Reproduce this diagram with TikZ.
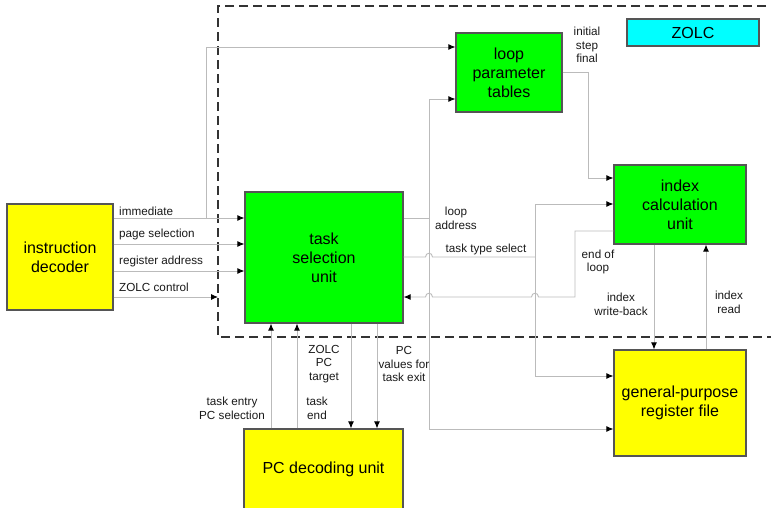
\documentclass[tikz,border=0pt]{standalone}
\usepackage{fontspec}
\setmainfont{Liberation Sans}
\usetikzlibrary{arrows.meta}
\definecolor{boxyellow}{HTML}{FFFF00}
\definecolor{boxgreen}{HTML}{00FF00}
\definecolor{boxcyan}{HTML}{00FFFF}
\definecolor{boxline}{HTML}{555555}
\definecolor{wire}{HTML}{BBBBBB}
\definecolor{zoneline}{HTML}{333333}
\begin{document}
\begin{tikzpicture}[x=1pt,y=-1pt,
  blk/.style={draw=boxline,line width=1.2pt,inner sep=0pt,align=center,
    font=\fontsize{16}{19}\selectfont},
  lbl/.style={inner sep=0pt,align=center,text=black!90,
    font=\fontsize{11.7}{13.8}\selectfont},
  conn/.style={draw=wire,line width=0.9pt},
  arr/.style={conn,-{Latex[length=7pt,width=6pt,color=black]}},
  zone/.style={draw=zoneline,line width=1.3pt,dash pattern=on 9pt off 5pt},
]
\useasboundingbox (0,0) rectangle (771,507);

% ZOLC region boundary
\draw[zone] (780,6) -- (218,6) -- (218,337) -- (780,337);

% functional blocks
\node[blk,fill=boxyellow,minimum width=106pt,minimum height=106pt] (id) at (60,257) {instruction\\decoder};
\node[blk,fill=boxgreen,minimum width=158pt,minimum height=131pt] (tsu) at (324,257.5) {task\\selection\\unit};
\node[blk,fill=boxgreen,minimum width=106pt,minimum height=79pt] (lpt) at (509,72.5) {loop\\parameter\\tables};
\node[blk,fill=boxcyan,minimum width=132pt,minimum height=27pt] (zolc) at (693,32.5) {ZOLC};
\node[blk,fill=boxgreen,minimum width=132pt,minimum height=79pt] (icu) at (680,204.5) {index\\calculation\\unit};
\node[blk,fill=boxyellow,minimum width=132pt,minimum height=106pt] (gprf) at (680,403) {general-purpose\\register file};
\node[blk,fill=boxyellow,minimum width=159pt,minimum height=80pt] (pcdu) at (323.5,469) {PC decoding unit};

% signal levels and junctions
\coordinate (yimm) at (0,218);
\coordinate (ypg) at (0,244);
\coordinate (yreg) at (0,271);
\coordinate (yzc) at (0,297);
\coordinate (zend) at (218,297);
\coordinate (jimm) at (206,218);
\coordinate (ylp1) at (0,47);
\coordinate (ylp2) at (0,99);
\coordinate (yisf) at (0,72);
\coordinate (cisf) at (588,178);
\coordinate (jla) at (429,218);
\coordinate (jtt) at (535,257);
\coordinate (yic2) at (0,204);
\coordinate (yel) at (0,231);
\coordinate (cel) at (575,297);
\coordinate (ygp1) at (0,376);
\coordinate (ygp2) at (0,429);
\coordinate (xwb) at (654,0);
\coordinate (xir) at (706,0);
\coordinate (xte) at (271,0);
\coordinate (xtend) at (297,0);
\coordinate (xzt) at (351,0);
\coordinate (xpv) at (377,0);

% instruction decoder outputs
\draw[arr] (id.east |- yimm) -- (tsu.west |- yimm);
\draw[arr] (jimm) |- (lpt.west |- ylp1);
\draw[arr] (id.east |- ypg) -- (tsu.west |- ypg);
\draw[arr] (id.east |- yreg) -- (tsu.west |- yreg);
\draw[arr] (id.east |- yzc) -- (zend);

% loop address
\draw[conn] (tsu.east |- jla) -- (jla);
\draw[arr] (jla) |- (lpt.west |- ylp2);
\draw[arr] (jla) |- (gprf.west |- ygp2);

% task type select (hops over the loop address line)
\draw[conn] (tsu.east |- jtt) -- (425.5,257) .. controls (425.5,252) and (432.5,252) .. (432.5,257) -- (jtt);
\draw[arr] (jtt) |- (icu.west |- yic2);
\draw[arr] (jtt) |- (gprf.west |- ygp1);

% loop parameters
\draw[arr] (lpt.east |- yisf) -| (cisf) -- (icu.west |- cisf);

% end of loop (hops over two vertical lines)
\draw[arr] (icu.west |- yel) -| (cel) -- (538.5,297) .. controls (538.5,292) and (531.5,292) .. (531.5,297)
  -- (432.5,297) .. controls (432.5,292) and (425.5,292) .. (425.5,297) -- (tsu.east |- cel);

% register file access
\draw[arr] (icu.south -| xwb) -- (gprf.north -| xwb);
\draw[arr] (gprf.north -| xir) -- (icu.south -| xir);

% PC decoding unit links
\draw[arr] (pcdu.north -| xte) -- (tsu.south -| xte);
\draw[arr] (pcdu.north -| xtend) -- (tsu.south -| xtend);
\draw[arr] (tsu.south -| xzt) -- (pcdu.north -| xzt);
\draw[arr] (tsu.south -| xpv) -- (pcdu.north -| xpv);

% signal labels
\node[lbl,anchor=base west] (limm) at (119,215) {immediate};
\node[lbl,anchor=base west] (lpg) at (119,237) {page selection};
\node[lbl,anchor=base west] (lreg) at (119,264) {register address};
\node[lbl,anchor=base west] (lzc) at (119,291) {ZOLC control};
\node[lbl] (lla) at (456,218) {loop\\address};
\node[lbl,anchor=base] (ltt) at (486,252) {task type select};
\node[lbl] (lisf) at (587,45) {initial\\step\\final};
\node[lbl] (lel) at (598,262) {end of\\loop};
\node[lbl] (lwb) at (621,304) {index\\write-back};
\node[lbl] (lir) at (729,302) {index\\read};
\node[lbl] (lte) at (232,408) {task entry\\PC selection};
\node[lbl] (ltend) at (317,408) {task\\end};
\node[lbl] (lzt) at (324,364) {ZOLC\\PC\\target};
\node[lbl] (lpv) at (404,364) {PC\\values for\\task exit};
\end{tikzpicture}
\end{document}
